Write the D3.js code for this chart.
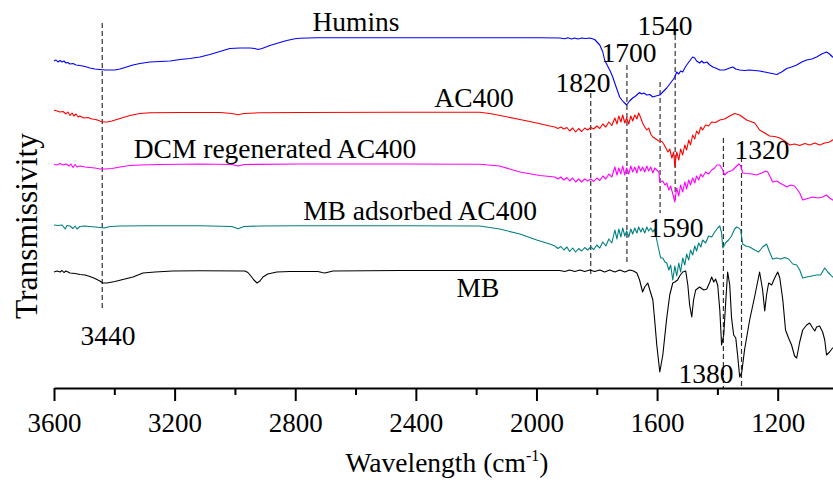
<!DOCTYPE html>
<html>
<head>
<meta charset="utf-8">
<script src="https://cdn.jsdelivr.net/npm/d3@7"></script>
<style>
  body { margin: 0; background: #fff; }
  svg { display: block; }
  svg text { font-family: "Liberation Serif", Tinos, "Times New Roman", serif; fill: #000; }
</style>
</head>
<body>
<svg id="chart" width="833" height="480"></svg>
<script>
// FTIR spectra, [wavenumber (cm-1), transmissivity (a.u., stacked)]
const humins = [
  [3600,327],[3593,328],[3587,326],[3580,327.5],[3573,326],[3567,327],[3560,325],[3554,325.5],
  [3547,324],[3537,324.5],[3527,323],[3514,322.5],[3497,321.5],[3481,320],[3464,319],[3448,318.5],
  [3431,318],[3414,318],[3398,318],[3381,319],[3365,320.5],[3338,323],[3315,324.5],[3282,326],
  [3249,326.5],[3215,327],[3182,328.5],[3149,329.5],[3116,331],[3083,333.5],[3050,336.5],[3017,339.5],
  [2983,340],[2950,340],[2934,339.5],[2924,338.5],[2910,339.5],[2884,342.5],[2851,345.5],[2828,347.5],
  [2801,349.2],[2785,349.7],[2728,350.2],[2453,350.3],[2122,350.2],[1989,350.2],[1923,350],[1906,349.2],
  [1896,350.2],[1883,349],[1873,350],[1863,349],[1850,350],[1836,349.5],[1823,350],[1807,348.5],
  [1790,343],[1780,336],[1774,328],[1764,322],[1754,316],[1747,311],[1737,302],[1730,296],
  [1724,291],[1717,288],[1711,286],[1701,283],[1691,287],[1681,290],[1671,292],[1664,294],
  [1658,295.5],[1651,294],[1644,295],[1634,293],[1624,293.5],[1614,291],[1604,292],[1591,293],
  [1581,296],[1568,300],[1558,304],[1548,308],[1541,311],[1535,316],[1528,314],[1522,317],
  [1515,316],[1508,320],[1502,323],[1492,327],[1482,331],[1475,330],[1469,327],[1459,325],
  [1452,327],[1445,325],[1435,326],[1425,323],[1415,321],[1406,320],[1392,318],[1376,318],
  [1359,320],[1349,321],[1339,319],[1326,318],[1310,317.5],[1293,318],[1276,317.5],[1260,317],
  [1243,316],[1227,315],[1203,313.5],[1187,316],[1170,319.5],[1154,321],[1137,323],[1120,326],
  [1104,328],[1087,329],[1071,331],[1054,334],[1038,336],[1028,334],[1018,331],[1000,329]
];

const ac400 = [
  [3600,278],[3590,277],[3580,276],[3570,276.5],[3560,274],[3554,276],[3547,272.5],[3540,275],
  [3534,272],[3527,274],[3520,271],[3514,272],[3501,270],[3487,270.5],[3474,269],[3461,268.5],
  [3448,267],[3438,266],[3424,266],[3408,267],[3381,269.5],[3348,272.5],[3315,274.5],[3282,275.3],
  [3182,275.5],[3050,275.5],[3010,274.5],[2990,273.3],[2970,274.5],[2917,275.2],[2785,275.5],[2453,275.7],
  [2188,275.7],[2155,274.5],[2112,272],[2055,268.5],[1999,265],[1956,262],[1939,261],[1929,259.5],
  [1919,261],[1909,259],[1899,260.5],[1890,257],[1880,260],[1870,256],[1860,259.5],[1850,256.5],
  [1840,260],[1830,258],[1820,260.5],[1810,259],[1800,262],[1790,259.5],[1780,264],[1770,261],
  [1760,266],[1750,262.5],[1740,270],[1733,264],[1727,272],[1720,266],[1714,273],[1707,265],
  [1701,270],[1694,264],[1687,272],[1681,267],[1674,273],[1667,269],[1661,275],[1654,270],
  [1648,265],[1641,261],[1634,258],[1628,260],[1621,254],[1614,251],[1604,249],[1594,247],
  [1584,246.5],[1578,244],[1571,240],[1564,236],[1558,239],[1551,230],[1545,236],[1541,221],
  [1535,236],[1528,228],[1522,239],[1515,233],[1508,243],[1502,238],[1495,248],[1489,243],
  [1482,253],[1475,249],[1469,257],[1462,254],[1455,261],[1449,258],[1439,263],[1429,262],
  [1419,266],[1406,265.5],[1392,268],[1376,269],[1359,272],[1343,274.5],[1326,273],[1303,268],
  [1276,265],[1260,258],[1243,255],[1227,252],[1210,251.5],[1193,250],[1177,247],[1160,243],
  [1144,244],[1127,242.5],[1110,244.5],[1094,243],[1077,245],[1061,243],[1044,245],[1028,246],
  [1018,248],[1000,249]
];

const dcmAc400 = [
  [3600,223.5],[3590,223],[3580,224.5],[3570,223],[3560,224],[3550,222],[3544,224],[3537,220.5],
  [3530,223.5],[3524,221],[3514,222],[3497,221],[3481,220.5],[3464,220],[3448,219],[3431,219],
  [3408,219.5],[3381,221],[3348,222.5],[3315,223],[3249,223.5],[3116,224],[3010,223.5],[2990,222],
  [2970,223.5],[2785,224],[2453,224],[2188,223.7],[2122,222],[2055,216],[1989,212.5],[1939,211],
  [1929,209],[1919,211],[1909,208],[1899,210.5],[1890,207],[1880,210],[1870,206],[1860,209],
  [1850,206],[1840,209],[1830,207],[1820,209],[1810,206.5],[1800,210],[1790,207.5],[1780,212],
  [1770,209],[1760,214],[1750,211],[1740,221],[1733,213],[1727,220],[1720,214],[1714,222],
  [1707,213],[1701,220],[1694,214],[1687,222],[1681,216],[1674,221],[1667,215],[1661,222],
  [1654,217],[1648,221],[1641,216],[1634,222],[1628,217],[1621,221],[1614,215],[1608,220],
  [1601,218],[1594,216],[1591,206],[1581,207],[1574,203],[1568,205],[1561,198],[1555,202],
  [1548,194],[1541,186],[1535,200],[1528,192],[1522,203],[1515,196],[1508,206],[1502,199],
  [1495,208],[1489,203],[1482,210],[1475,205],[1469,212],[1462,208],[1455,214],[1449,211],
  [1439,216],[1429,214],[1419,218],[1409,220],[1402,223],[1392,223],[1382,218],[1376,213],
  [1366,216],[1356,217],[1349,218],[1339,221],[1329,224],[1323,222.5],[1316,215],[1303,214.5],
  [1286,214],[1270,213],[1253,215],[1240,217],[1233,216],[1223,210],[1217,206],[1203,207],
  [1193,205],[1180,203],[1170,201],[1157,203],[1144,202],[1134,198],[1127,195],[1117,188],
  [1101,189.5],[1084,191],[1067,190],[1051,191],[1038,193],[1028,190],[1018,188],[1000,189]
];

const mbAc400 = [
  [3600,163],[3587,162.5],[3573,163],[3563,159],[3557,162.5],[3547,162],[3537,159.5],[3530,162],
  [3524,159],[3514,161.5],[3497,162],[3481,161.5],[3464,161],[3448,160.5],[3434,160],[3414,161.5],
  [3381,162],[3282,162.2],[3116,162.2],[3010,161.5],[2990,159.3],[2970,161.5],[2917,162],[2785,162.2],
  [2453,162.3],[2188,162],[2122,159],[2055,154],[1999,148],[1956,144],[1939,142],[1929,139.5],
  [1919,141.5],[1909,138],[1899,141],[1890,136.5],[1880,140],[1870,136],[1860,139.5],[1850,137],
  [1840,140.5],[1830,138],[1820,141],[1810,138.5],[1800,143],[1790,140],[1780,146],[1770,142],
  [1760,149],[1750,145],[1740,158],[1733,149],[1727,159],[1720,151],[1714,160],[1707,152],
  [1701,157],[1694,151],[1687,159],[1681,154],[1674,160],[1667,155],[1661,161],[1654,156],
  [1648,160],[1641,155],[1634,161],[1628,157],[1621,160],[1614,156],[1608,159],[1601,148],
  [1594,138],[1588,130],[1581,130],[1574,126],[1568,125],[1561,118],[1555,123],[1548,108],
  [1541,122],[1535,112],[1528,125],[1522,116],[1515,130],[1508,123],[1502,134],[1495,128],
  [1489,138],[1482,133],[1475,142],[1469,137],[1462,145],[1455,141],[1449,148],[1439,145],
  [1429,152],[1419,151],[1409,156],[1399,160],[1392,162],[1386,155],[1382,140],[1373,145],
  [1363,148],[1353,152],[1343,159],[1336,161],[1329,160],[1323,158],[1316,144],[1306,142],
  [1293,141],[1276,138],[1263,136],[1250,141],[1237,144],[1227,136],[1217,129],[1203,130],
  [1190,129],[1177,130.5],[1164,129],[1150,124],[1137,123],[1127,118],[1117,110],[1104,111],
  [1087,112],[1071,113],[1058,113],[1044,120],[1034,116],[1024,113],[1018,111],[1000,112]
];

const mb = [
  [3600,116],[3590,117],[3580,116],[3573,117.5],[3567,115.5],[3560,117],[3547,115],[3530,114.5],
  [3514,113.5],[3497,113],[3481,111.5],[3464,109.5],[3448,107],[3438,105],[3424,105],[3398,106.5],
  [3365,109],[3338,111],[3305,115],[3265,116],[3206,117],[3116,117.2],[2967,117],[2957,115.5],
  [2947,112],[2937,108],[2927,105],[2917,107],[2907,111],[2891,114],[2861,116],[2818,116.5],
  [2725,116.5],[2711,115.5],[2702,115],[2688,116],[2675,117],[2453,117.5],[2122,117.5],[1923,117.5],
  [1906,116.5],[1890,118],[1873,116.5],[1856,118],[1840,116.5],[1823,118],[1807,116.5],[1790,118],
  [1774,116],[1757,118],[1740,116],[1724,118],[1707,116],[1691,118],[1678,117],[1667,115],
  [1658,108],[1648,96],[1641,101],[1631,105],[1624,98],[1614,88],[1608,68],[1601,43],
  [1591,16],[1581,33],[1574,53],[1568,70],[1558,93],[1548,105],[1541,106],[1532,108],
  [1525,112],[1515,116],[1505,117],[1498,103],[1492,83],[1485,71],[1479,88],[1472,98],
  [1459,101],[1445,98],[1435,99],[1425,106],[1419,111],[1412,106],[1406,109],[1399,103],
  [1392,78],[1386,43],[1379,53],[1372,88],[1366,116],[1359,103],[1353,70],[1346,53],
  [1339,50],[1333,33],[1326,11],[1319,16],[1310,38],[1293,68],[1276,92],[1260,116],
  [1250,98],[1243,77],[1237,93],[1230,105],[1220,103],[1210,110],[1200,116],[1193,110],
  [1183,88],[1174,58],[1164,50],[1154,43],[1144,32],[1137,30],[1127,46],[1117,58],
  [1104,63],[1094,65],[1084,60],[1077,57],[1071,61],[1061,62],[1051,56],[1044,48],
  [1038,33],[1028,36],[1018,40],[1000,42]
];

const seriesData   = [humins, ac400, dcmAc400, mbAc400, mb];
const seriesNames  = ["Humins", "AC400", "DCM regenerated AC400", "MB adsorbed AC400", "MB"];
const seriesColors = ["#0000ff", "#ff0000", "#ff00ff", "#008080", "#000000"];

// Marked absorption bands
const peakWavenumbers = [3440, 1820, 1700, 1590, 1540, 1380, 1320];
const peakLabels      = ["3440", "1820", "1700", "1590", "1540", "1380", "1320"];

const majorTicks = [3600, 3200, 2800, 2400, 2000, 1600, 1200];
const minorTicks = [3400, 3000, 2600, 2200, 1800, 1400, 1000];

// ---------- drawing ----------
const FONT = '"Liberation Serif", Tinos, "Times New Roman", serif';
const LABEL_SIZE = 27.5;
const svg = d3.select("#chart");
const axisY = 388;

const x = d3.scaleLinear().domain([3600, 1000]).range([54, 838]);
const y = d3.scaleLinear().domain([0, 388]).range([axisY, 0]);

const line = d3.line()
  .x(d => x(d[0]))
  .y(d => y(d[1]))
  .curve(d3.curveLinear);

// dashed guide lines (pixel extents of each guide and its label)
const peakLayout = [
  { top: 23,  bottom: 310, lx: 108, ly: 345 },
  { top: 93,  bottom: 275, lx: 583, ly: 92 },
  { top: 65,  bottom: 265, lx: 629, ly: 62 },
  { top: 82,  bottom: 213, lx: 676, ly: 237 },
  { top: 35,  bottom: 203, lx: 665, ly: 35 },
  { top: 138, bottom: 388, lx: 706, ly: 383 },
  { top: 157, bottom: 388, lx: 762, ly: 159 }
];

const guides = svg.append("g");
peakWavenumbers.forEach((wn, i) => {
  const L = peakLayout[i];
  guides.append("line")
    .attr("x1", x(wn)).attr("x2", x(wn))
    .attr("y1", L.top).attr("y2", L.bottom)
    .attr("stroke", "#333")
    .attr("stroke-width", 1.2)
    .attr("stroke-dasharray", "5,3");
});

// spectra
svg.append("g").selectAll("path")
  .data(seriesData)
  .join("path")
  .attr("fill", "none")
  .attr("stroke", (d, i) => seriesColors[i])
  .attr("stroke-width", 1.1)
  .attr("stroke-linejoin", "round")
  .attr("d", line);

// peak labels
peakWavenumbers.forEach((wn, i) => {
  const L = peakLayout[i];
  svg.append("text")
    .attr("x", L.lx).attr("y", L.ly)
    .attr("text-anchor", "middle")
    .style("font-family", FONT)
    .attr("font-size", LABEL_SIZE)
    .text(peakLabels[i]);
});

// series labels
const seriesLabelPos = [
  { x: 356, y: 31 },
  { x: 474, y: 107 },
  { x: 275, y: 158 },
  { x: 420, y: 220 },
  { x: 478, y: 297 }
];
seriesNames.forEach((name, i) => {
  svg.append("text")
    .attr("x", seriesLabelPos[i].x).attr("y", seriesLabelPos[i].y)
    .attr("text-anchor", "middle")
    .style("font-family", FONT)
    .attr("font-size", LABEL_SIZE)
    .text(name);
});

// bottom axis
const gx = svg.append("g").attr("transform", `translate(0,${axisY})`);
gx.call(d3.axisBottom(x).tickValues(majorTicks).tickSize(13).tickSizeOuter(0).tickFormat(d3.format("d")));
gx.select(".domain").attr("stroke", "#000").attr("stroke-width", 2);
gx.selectAll(".tick line").attr("stroke", "#000").attr("stroke-width", 2);
gx.selectAll(".tick text")
  .attr("y", 44).attr("dy", null)
  .attr("font-size", 27)
  .style("font-family", FONT)
  .attr("fill", "#000");

const gm = svg.append("g").attr("transform", `translate(0,${axisY})`);
gm.call(d3.axisBottom(x).tickValues(minorTicks).tickSize(7).tickSizeOuter(0).tickFormat(""));
gm.select(".domain").remove();
gm.selectAll(".tick line").attr("stroke", "#000").attr("stroke-width", 2);

// axis titles
const xt = svg.append("text")
  .attr("x", 447).attr("y", 472)
  .attr("text-anchor", "middle")
  .style("font-family", FONT)
  .attr("font-size", LABEL_SIZE);
xt.append("tspan").text("Wavelength (cm");
xt.append("tspan").attr("font-size", 16).attr("dy", -11).text("-1");
xt.append("tspan").attr("dy", 11).text(")");

svg.append("text")
  .attr("transform", "translate(37,226) rotate(-90)")
  .attr("text-anchor", "middle")
  .style("font-family", FONT)
  .attr("font-size", 31.5)
  .text("Transmissivity");
</script>
</body>
</html>
